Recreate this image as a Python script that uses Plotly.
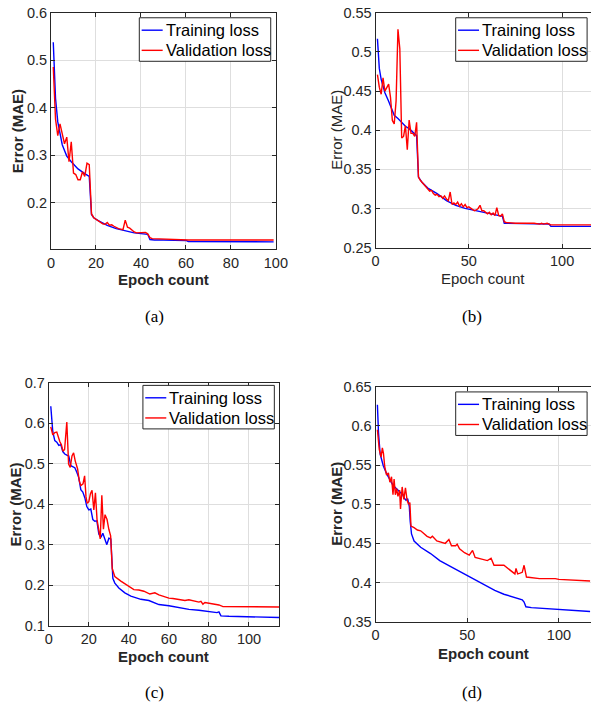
import plotly.graph_objects as go

# ---------------- data ----------------
# (a)
a_train_ep = [1, 2, 3, 4, 5, 6, 7, 9, 12, 15, 17, 18, 19, 21, 25, 29, 33, 37, 41, 43, 44, 46, 50, 60, 61, 99]
a_train = [0.538, 0.42, 0.37, 0.342, 0.322, 0.31, 0.298, 0.286, 0.271, 0.261, 0.255, 0.175, 0.168, 0.162,
           0.152, 0.145, 0.14, 0.136, 0.134, 0.133, 0.122, 0.121, 0.121, 0.12, 0.118, 0.117]
a_val_ep = [1, 2, 3, 4, 5, 6, 7, 8, 9, 10, 11, 12, 13, 14, 15, 16, 17, 18, 19, 20, 21, 22, 23, 24, 25, 26,
            27, 28, 29, 30, 31, 32, 33, 34, 35, 36, 37, 38, 40, 42, 43, 44, 45, 60, 61, 99]
a_val = [0.486, 0.376, 0.341, 0.366, 0.345, 0.324, 0.338, 0.286, 0.328, 0.262, 0.259, 0.248, 0.248, 0.265,
         0.255, 0.283, 0.28, 0.176, 0.168, 0.165, 0.162, 0.158, 0.155, 0.154, 0.158, 0.152, 0.153, 0.15,
         0.147, 0.145, 0.144, 0.143, 0.163, 0.148, 0.146, 0.141, 0.138, 0.136, 0.136, 0.137, 0.134, 0.126,
         0.124, 0.122, 0.121, 0.121]

# (b)
b_train_ep = [1, 2, 3, 5, 7, 9, 10, 12, 14, 16, 18, 20, 22, 23, 25, 28, 33, 38, 43, 48, 55, 60, 68, 69, 93, 94, 116]
b_train = [0.517, 0.479, 0.465, 0.448, 0.437, 0.425, 0.419, 0.415, 0.41, 0.405, 0.402, 0.398, 0.393, 0.34,
           0.333, 0.326, 0.319, 0.31, 0.304, 0.3, 0.297, 0.294, 0.29, 0.281, 0.28, 0.277, 0.277]
b_val_ep = list(range(1, 71)) + [75, 80, 85, 88, 89, 90, 92, 93, 94, 116]
b_val = [0.471, 0.455, 0.446, 0.467, 0.45, 0.455, 0.459, 0.442, 0.4125, 0.408, 0.4375, 0.529, 0.504, 0.39,
         0.392, 0.406, 0.375, 0.413, 0.396, 0.396, 0.392, 0.41, 0.34, 0.336, 0.333, 0.33, 0.328, 0.325,
         0.322, 0.323, 0.319, 0.317, 0.318, 0.315, 0.316, 0.313, 0.316, 0.312, 0.31, 0.321, 0.305, 0.307,
         0.305, 0.308, 0.303, 0.306, 0.302, 0.305, 0.301, 0.302, 0.3, 0.299, 0.297, 0.298, 0.3, 0.304,
         0.297, 0.297, 0.295, 0.293, 0.295, 0.292, 0.294, 0.291, 0.301, 0.291, 0.29, 0.293, 0.283, 0.282,
         0.281, 0.281, 0.281, 0.28, 0.281, 0.28, 0.281, 0.28, 0.279, 0.279]

# (c)
c_train_ep = [1, 2, 3, 4, 5, 6, 7, 8, 9, 10, 11, 12, 13, 14, 15, 16, 17, 18, 19, 20, 21, 22, 23, 24, 25, 26,
              27, 28, 29, 30, 31, 32, 33, 35, 38, 41, 46, 50, 55, 60, 67, 70, 75, 80, 84, 85, 86, 90, 100, 115]
c_train = [0.642, 0.579, 0.557, 0.553, 0.545, 0.547, 0.53, 0.524, 0.521, 0.519, 0.495, 0.492, 0.49, 0.479,
           0.465, 0.436, 0.43, 0.416, 0.394, 0.386, 0.388, 0.362, 0.358, 0.359, 0.326, 0.318, 0.328, 0.314,
           0.3, 0.316, 0.314, 0.217, 0.205, 0.193, 0.181, 0.173, 0.165, 0.162, 0.152, 0.149, 0.142, 0.14,
           0.138, 0.134, 0.132, 0.134, 0.124, 0.123, 0.122, 0.12]
c_val_ep = [1, 2, 3, 4, 5.5, 6.3, 7.1, 7.9, 9, 9.9, 10.7, 11.6, 12.4, 13.2, 14.4, 15.2, 16, 17.1, 17.9, 18.6,
            19.2, 20, 20.8, 21.6, 22.5, 23.3, 24.1, 24.9, 25.7, 26.5, 27.3, 28.1, 29.1, 30, 30.9, 31.7, 33,
            36, 39, 42.5, 45, 47.5, 50.5, 53, 55, 57, 60, 62, 65, 68, 70, 73, 75, 76, 77, 78, 80, 83, 85,
            87, 100, 110, 115]
c_val = [0.591, 0.571, 0.577, 0.578, 0.555, 0.547, 0.531, 0.535, 0.603, 0.499, 0.491, 0.519, 0.527, 0.507,
         0.487, 0.458, 0.446, 0.45, 0.47, 0.418, 0.402, 0.406, 0.426, 0.434, 0.386, 0.428, 0.362, 0.334,
         0.314, 0.422, 0.338, 0.374, 0.362, 0.338, 0.322, 0.241, 0.221, 0.21, 0.2, 0.189, 0.188, 0.185,
         0.178, 0.181, 0.176, 0.172, 0.168, 0.167, 0.165, 0.162, 0.164, 0.16, 0.158, 0.16, 0.153, 0.157,
         0.155, 0.152, 0.151, 0.147, 0.146, 0.147, 0.146]

# (d)
d_train_ep = [1, 1.6, 2.5, 3.3, 4.2, 6, 7.8, 9.5, 11.3, 13.1, 14.8, 15.7, 16.6, 17.5, 18.4, 18.9, 19.6, 21,
              24.6, 30, 35, 40.5, 46, 51, 56, 60, 65, 70, 75, 80, 81, 82, 85, 100, 110, 117]
d_train = [0.627, 0.591, 0.564, 0.555, 0.549, 0.539, 0.532, 0.524, 0.52, 0.516, 0.512, 0.5075, 0.505, 0.507,
           0.497, 0.478, 0.462, 0.453, 0.445, 0.437, 0.428, 0.421, 0.414, 0.4075, 0.401, 0.396, 0.39, 0.385,
           0.381, 0.378, 0.375, 0.369, 0.368, 0.366, 0.364, 0.363]
d_val_ep = [1, 2, 3, 3.7, 4.3, 5, 6, 7, 7.8, 8.7, 9.5, 10.1, 10.8, 11.5, 12.2, 13.1, 13.6, 14.5, 15.4, 16.3,
            17.2, 18, 18.7, 19.3, 21, 22.8, 24.6, 26.3, 28.1, 30, 31, 33.4, 36.1, 38, 40, 41.4, 43.7, 44.5,
            45.8, 48.5, 51.1, 52.9, 54.3, 57.5, 61, 63, 64.6, 70, 73.5, 76, 76.6, 77.5, 78.8, 80, 81, 82.3,
            89.4, 98, 100, 117]
d_val = [0.595, 0.57, 0.56, 0.572, 0.565, 0.548, 0.537, 0.54, 0.528, 0.535, 0.512, 0.532, 0.512, 0.52,
         0.51, 0.518, 0.494, 0.522, 0.506, 0.521, 0.505, 0.5, 0.502, 0.472, 0.47, 0.467, 0.466, 0.462,
         0.459, 0.457, 0.459, 0.453, 0.451, 0.45, 0.455, 0.447, 0.447, 0.449, 0.443, 0.438, 0.435, 0.441,
         0.432, 0.43, 0.428, 0.431, 0.422, 0.422, 0.416, 0.411, 0.418, 0.411, 0.412, 0.413, 0.422, 0.407,
         0.405, 0.405, 0.404, 0.402]

series_names = ["Training loss", "Validation loss"]
series_colors = ["#0000ff", "#ff0000"]
captions = ["(a)", "(b)", "(c)", "(d)"]
x_ticks = [[0, 20, 40, 60, 80, 100], [0, 50, 100], [0, 20, 40, 60, 80, 100], [0, 50, 100]]
y_ticks = [[0.2, 0.3, 0.4, 0.5, 0.6], [0.25, 0.3, 0.35, 0.4, 0.45, 0.5, 0.55],
           [0.1, 0.2, 0.3, 0.4, 0.5, 0.6, 0.7], [0.35, 0.4, 0.45, 0.5, 0.55, 0.6, 0.65]]

# ---------------- layout geometry (pixels of the 603x717 page) ----------------
W, H = 603, 717
INK = "#262626"
GRID = "#dedede"
SANS = "Liberation Sans, Arial, sans-serif"
SERIF = "Liberation Serif, Times New Roman, serif"
LW = 1.4

panels = [
    # plot box (left, right, top, bottom px), ranges, bold titles, right border,
    # legend box right/top, x title y, y title x, caption centre
    dict(box=(48.3, 279.3, 5, 247), xr=[0, 100], yr=[0.101, 0.6], bold=True, rb=True,
         leg=(274, 10), xt=278, yt=13.3, cap=(155, 316)),
    dict(box=(381.7, 603, 5, 245), xr=[0, 115.5], yr=[0.25, 0.55], bold=False, rb=False,
         leg=(599, 10), xt=277, yt=341.7, cap=(481, 316)),
    dict(box=(46, 282.5, 383.3, 631.7), xr=[0, 115], yr=[0.1, 0.7], bold=True, rb=True,
         leg=(277.7, 386), xt=663, yt=11.7, cap=(155, 700)),
    dict(box=(381.7, 603, 387.3, 627.7), xr=[0, 117.5], yr=[0.35, 0.65], bold=True, rb=False,
         leg=(599, 392.7), xt=660, yt=341.7, cap=(481, 700)),
]
series = [
    (a_train_ep, a_train, a_val_ep, a_val),
    (b_train_ep, b_train, b_val_ep, b_val),
    (c_train_ep, c_train, c_val_ep, c_val),
    (d_train_ep, d_train, d_val_ep, d_val),
]

LEG_W, LEG_H = 135, 44.5          # MATLAB-style legend box
LEG_ROWS = (12.7, 33.3)            # row centres below the box top
LEG_SAMPLE = (2.4, 24.0)           # line sample from/to, from the box left


def px(x):
    return x / W


def py(y):
    return 1 - y / H


fig = go.Figure()
annotations, shapes = [], []
layout = dict(width=W, height=H, margin=dict(l=0, r=0, t=0, b=0),
              paper_bgcolor="white", plot_bgcolor="white", showlegend=False)

for i, (p, (tx, ty, vx, vy)) in enumerate(zip(panels, series)):
    n = "" if i == 0 else str(i + 1)
    l, r, t, b = p["box"]

    for (x, y), name, color in zip([(tx, ty), (vx, vy)], series_names, series_colors):
        fig.add_trace(go.Scatter(x=x, y=y, mode="lines", name=name,
                                 line=dict(color=color, width=LW), xaxis="x" + n, yaxis="y" + n))

    common = dict(showline=True, linecolor=INK, linewidth=1, ticks="inside", ticklen=4,
                  tickcolor=INK, tickwidth=1, showgrid=True, gridcolor=GRID, gridwidth=1,
                  zeroline=False, tickfont=dict(family=SANS, size=14.5, color=INK))
    layout["xaxis" + n] = dict(common, domain=[px(l), px(r)], range=p["xr"], tickvals=x_ticks[i],
                               anchor="y" + n, mirror="ticks")
    layout["yaxis" + n] = dict(common, domain=[py(b), py(t)], range=p["yr"], tickvals=y_ticks[i],
                               anchor="x" + n, mirror="ticks" if p["rb"] else False)

    # legend box in the MATLAB style (compact sample + label)
    lr, lt = p["leg"]
    ll = lr - LEG_W
    shapes.append(dict(type="rect", xref="paper", yref="paper", x0=px(ll), x1=px(lr), y0=py(lt + LEG_H),
                       y1=py(lt), line=dict(color=INK, width=1), fillcolor="white", layer="above"))
    for row, name, color in zip(LEG_ROWS, series_names, series_colors):
        shapes.append(dict(type="line", xref="paper", yref="paper", x0=px(ll + LEG_SAMPLE[0]),
                           x1=px(ll + LEG_SAMPLE[1]), y0=py(lt + row), y1=py(lt + row),
                           line=dict(color=color, width=LW), layer="above"))
        annotations.append(dict(text=name, x=px(ll + LEG_SAMPLE[1] + 1), y=py(lt + row), xref="paper",
                                yref="paper", showarrow=False, xanchor="left", yanchor="middle",
                                font=dict(family=SANS, size=16.5, color="black")))

    title_font = dict(family=SANS, size=15, color=INK)
    xt_text = "<b>Epoch count</b>" if p["bold"] else "Epoch count"
    yt_text = "<b>Error (MAE)</b>" if p["bold"] else "Error (MAE)"
    annotations.append(dict(text=xt_text, x=px((l + r) / 2), y=py(p["xt"]), xref="paper", yref="paper",
                            showarrow=False, xanchor="center", yanchor="middle", font=title_font))
    annotations.append(dict(text=yt_text, x=px(p["yt"]), y=py((t + b) / 2), xref="paper", yref="paper",
                            showarrow=False, xanchor="center", yanchor="middle", textangle=-90,
                            font=title_font))
    annotations.append(dict(text=captions[i], x=px(p["cap"][0]), y=py(p["cap"][1]), xref="paper",
                            yref="paper", showarrow=False, xanchor="center", yanchor="middle",
                            font=dict(family=SERIF, size=17, color="black")))

layout["annotations"] = annotations
layout["shapes"] = shapes
fig.update_layout(**layout)

# the page body has a default 8px margin; drop it (and any scrollbars) so the
# figure fills the window exactly
fig.write_html("out.html", config={"displayModeBar": False},
               post_script="document.body.style.margin = '0px'; document.body.style.overflow = 'hidden';")
